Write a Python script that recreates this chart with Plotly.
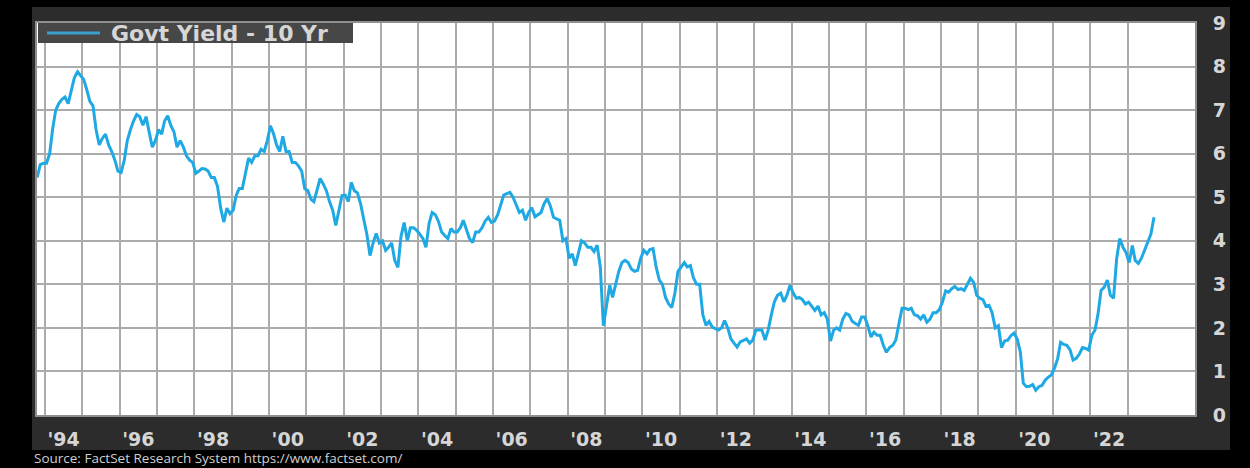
import pandas as pd
import plotly.graph_objects as go

# ---------------- data ----------------
series_name = "Govt Yield - 10 Yr"
start_month = "1993-10-01"
yield_10y = [
    # 1993 Oct-Dec
    5.45, 5.75, 5.78,
    # 1994
    5.78, 6.00, 6.55, 7.00, 7.15, 7.25, 7.30, 7.15, 7.45, 7.75, 7.88, 7.80,
    # 1995
    7.70, 7.45, 7.20, 7.10, 6.55, 6.20, 6.35, 6.45, 6.20, 6.05, 5.85, 5.60,
    # 1996
    5.57, 5.85, 6.30, 6.55, 6.75, 6.90, 6.85, 6.65, 6.85, 6.50, 6.15, 6.30,
    # 1997
    6.55, 6.45, 6.75, 6.87, 6.65, 6.50, 6.15, 6.30, 6.15, 5.95, 5.85, 5.80,
    # 1998
    5.55, 5.60, 5.66, 5.65, 5.60, 5.45, 5.45, 5.25, 4.75, 4.43, 4.75, 4.62,
    # 1999
    4.70, 5.05, 5.20, 5.20, 5.55, 5.90, 5.80, 5.95, 5.95, 6.10, 6.05, 6.30,
    # 2000
    6.64, 6.45, 6.20, 6.05, 6.40, 6.05, 6.05, 5.80, 5.80, 5.72, 5.60, 5.20,
    # 2001
    5.15, 4.95, 4.90, 5.20, 5.43, 5.30, 5.15, 4.90, 4.70, 4.35, 4.70, 5.04,
    # 2002
    5.05, 4.90, 5.34, 5.15, 5.10, 4.85, 4.50, 4.15, 3.66, 3.95, 4.17, 3.95,
    # 2003
    4.00, 3.78, 3.85, 3.95, 3.55, 3.39, 4.10, 4.42, 4.00, 4.30, 4.30, 4.24,
    # 2004
    4.15, 4.05, 3.85, 4.40, 4.65, 4.60, 4.45, 4.20, 4.12, 4.05, 4.28, 4.20,
    # 2005
    4.20, 4.30, 4.47, 4.25, 4.05, 3.96, 4.20, 4.20, 4.30, 4.45, 4.54, 4.42,
    # 2006
    4.45, 4.60, 4.80, 5.05, 5.08, 5.11, 5.00, 4.80, 4.65, 4.70, 4.47, 4.65,
    # 2007
    4.76, 4.55, 4.60, 4.65, 4.85, 4.97, 4.80, 4.54, 4.50, 4.47, 4.00, 4.05,
    # 2008
    3.60, 3.70, 3.43, 3.75, 4.00, 3.95, 3.85, 3.85, 3.75, 3.90, 3.40, 2.05,
    # 2009
    2.50, 2.98, 2.70, 3.00, 3.30, 3.50, 3.55, 3.50, 3.35, 3.30, 3.32, 3.60,
    # 2010
    3.78, 3.70, 3.80, 3.82, 3.40, 3.10, 3.00, 2.70, 2.55, 2.47, 2.80, 3.30,
    # 2011
    3.40, 3.50, 3.40, 3.43, 3.15, 3.00, 3.00, 2.30, 2.06, 2.15, 2.02, 1.98,
    # 2012
    1.95, 2.00, 2.17, 2.00, 1.75, 1.65, 1.56, 1.68, 1.72, 1.75, 1.65, 1.72,
    # 2013
    1.95, 1.95, 1.95, 1.72, 1.95, 2.30, 2.60, 2.75, 2.80, 2.60, 2.75, 2.98,
    # 2014
    2.80, 2.68, 2.70, 2.65, 2.55, 2.59, 2.50, 2.40, 2.50, 2.30, 2.35, 2.20,
    # 2015
    1.70, 1.95, 2.00, 1.95, 2.20, 2.33, 2.30, 2.15, 2.10, 2.06, 2.25, 2.25,
    # 2016
    2.05, 1.79, 1.90, 1.83, 1.83, 1.60, 1.44, 1.55, 1.60, 1.72, 2.10, 2.45,
    # 2017
    2.45, 2.42, 2.45, 2.30, 2.28, 2.20, 2.30, 2.13, 2.20, 2.35, 2.35, 2.42,
    # 2018
    2.60, 2.85, 2.82, 2.90, 2.95, 2.88, 2.90, 2.86, 3.00, 3.14, 3.05, 2.75,
    # 2019
    2.68, 2.65, 2.50, 2.52, 2.35, 2.00, 2.05, 1.55, 1.70, 1.72, 1.82, 1.88,
    # 2020
    1.75, 1.45, 0.73, 0.65, 0.66, 0.70, 0.57, 0.65, 0.68, 0.80, 0.87, 0.92,
    # 2021
    1.08, 1.30, 1.67, 1.62, 1.60, 1.50, 1.26, 1.30, 1.40, 1.55, 1.53, 1.49,
    # 2022
    1.83, 1.95, 2.30, 2.86, 2.93, 3.10, 2.75, 2.68, 3.60, 4.05, 3.85, 3.73,
    # 2023 Jan-Sep
    3.50, 3.89, 3.55, 3.48, 3.60, 3.78, 3.95, 4.15, 4.54,
]
tick_years = list(range(1994, 2023, 2))
tick_labels = ["'" + str(y)[2:] for y in tick_years]
grid_years = list(range(1994, 2024))
y_ticks = list(range(0, 10))
source_text = "Source: FactSet Research System https://www.factset.com/"

dates = pd.date_range(start_month, periods=len(yield_10y), freq="MS") + pd.Timedelta(days=14)

# ---------------- layout geometry (pixels) ----------------
W, H = 1250, 468
PL, PR, PT, PB = 37, 1195, 23, 415   # plot area


def px_x(px):
    return (px - PL) / (PR - PL)


def px_y(py):
    return (PB - py) / (PB - PT)


LINE_COLOR = "#1fa9e4"
GRID_COLOR = "#ababab"
TEXT_COLOR = "#d6d6d6"
PANEL_COLOR = "#2c2c2c"

fig = go.Figure()
fig.add_trace(go.Scatter(
    x=dates, y=yield_10y, mode="lines", name=series_name,
    line=dict(color=LINE_COLOR, width=3), showlegend=False,
))

shapes = [
    # dark panel
    dict(type="rect", xref="paper", yref="paper", layer="below",
         x0=px_x(32), x1=px_x(1230), y0=px_y(450), y1=px_y(7),
         fillcolor=PANEL_COLOR, line=dict(width=0)),
    # white plot area
    dict(type="rect", xref="paper", yref="paper", layer="below",
         x0=0, x1=1, y0=0, y1=1, fillcolor="white", line=dict(width=0)),
    # legend box
    dict(type="rect", xref="paper", yref="paper", layer="above",
         x0=px_x(38), x1=px_x(353), y0=px_y(43), y1=px_y(23),
         fillcolor="#474747", line=dict(width=0)),
    # legend line sample
    dict(type="line", xref="paper", yref="paper", layer="above",
         x0=px_x(47), x1=px_x(100), y0=px_y(33), y1=px_y(33),
         line=dict(color="#3a9fcc", width=3)),
]

annotations = [
    dict(text=series_name, xref="paper", yref="paper",
         x=px_x(109), y=px_y(33.5), xanchor="left", yanchor="middle",
         showarrow=False,
         font=dict(family="DejaVu Sans", size=22, color=TEXT_COLOR, weight="bold")),
    dict(text=source_text, xref="paper", yref="paper",
         x=px_x(32), y=px_y(458), xanchor="left", yanchor="middle",
         showarrow=False,
         font=dict(family="Open Sans", size=13.5, color="#cfcfcf")),
]

fig.update_layout(
    width=W, height=H,
    margin=dict(l=PL, r=W - PR, t=PT, b=H - PB, pad=0),
    paper_bgcolor="black", plot_bgcolor="white",
    shapes=shapes, annotations=annotations,
    showlegend=False,
    xaxis=dict(
        type="date",
        range=["1993-10-14", "2024-10-20"],
        tickmode="array",
        tickvals=[pd.Timestamp(f"{y}-07-02") for y in tick_years],
        ticktext=tick_labels,
        showgrid=False, zeroline=False,
        ticks="", ticklabelstandoff=6,
        tickfont=dict(family="DejaVu Sans", size=19, color=TEXT_COLOR, weight="bold"),
        showline=True, linecolor="#8f8f8f", linewidth=2, mirror=True,
        minor=dict(tickmode="array",
                   tickvals=[pd.Timestamp(f"{y}-01-01") for y in grid_years],
                   showgrid=True, gridcolor=GRID_COLOR, gridwidth=2, ticklen=0),
        fixedrange=True,
    ),
    yaxis=dict(
        range=[0, 9], side="right",
        tickmode="array", tickvals=y_ticks, ticktext=[str(v) for v in y_ticks],
        showgrid=True, gridcolor=GRID_COLOR, gridwidth=2, zeroline=False,
        ticks="", ticklabelstandoff=12,
        tickfont=dict(family="DejaVu Sans", size=19, color=TEXT_COLOR, weight="bold"),
        showline=True, linecolor="#8f8f8f", linewidth=2, mirror=True,
        fixedrange=True,
    ),
)

fig.write_html("out.html")
